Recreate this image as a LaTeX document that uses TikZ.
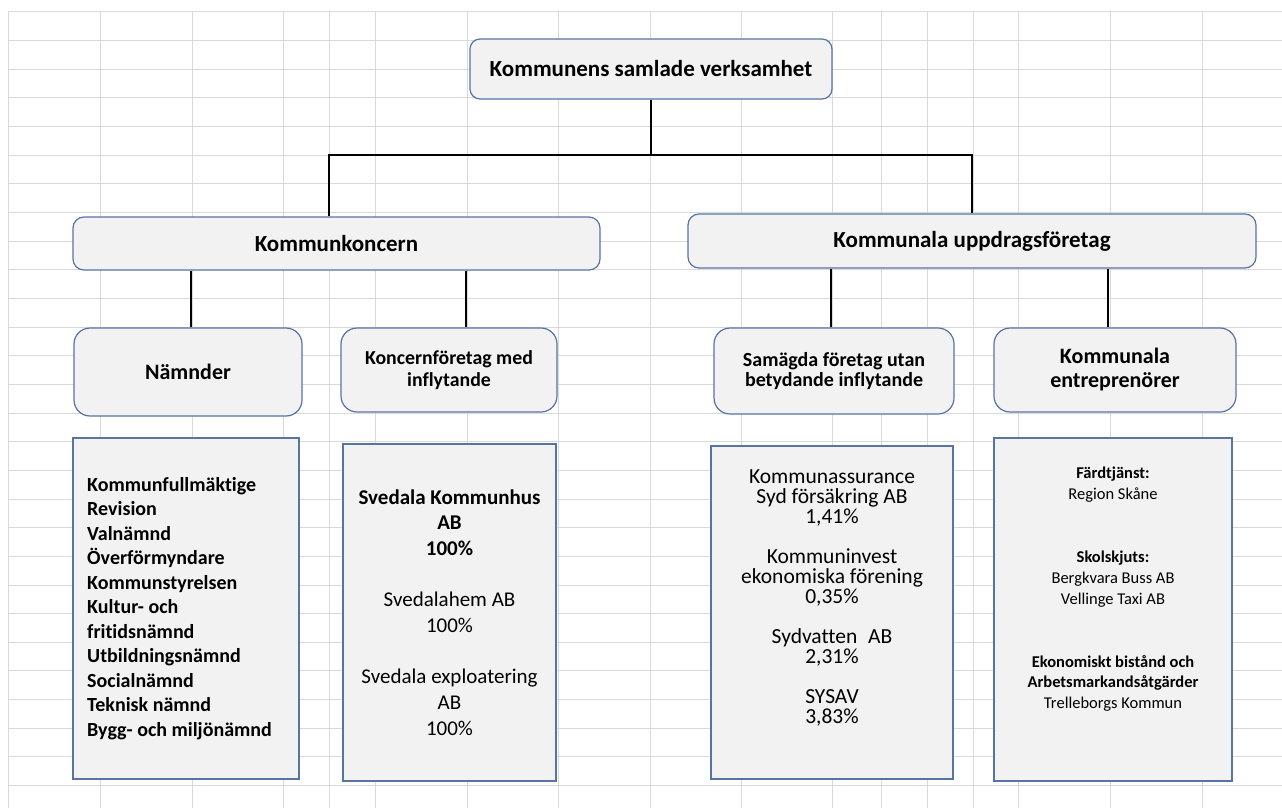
\documentclass[tikz,border=0pt]{standalone}
\usepackage{fontspec}
\setmainfont[Ligatures=NoCommon]{Carlito}
\definecolor{boxfill}{RGB}{242,242,242}
\definecolor{boxline}{RGB}{88,116,165}
\definecolor{gridc}{RGB}{217,217,217}
\tikzset{
  gridline/.style={draw=gridc, line width=1pt},
  conn/.style={draw=black, line width=2.3pt},
  headbox/.style={draw=boxline, fill=boxfill, line width=1.2pt, rounded corners=11pt,
    inner sep=0pt, align=center, font=\bfseries\fontsize{23}{27}\selectfont},
  subbox/.style={draw=boxline, fill=boxfill, line width=1.2pt, rounded corners=16pt,
    inner sep=0pt, align=center},
  listbox/.style={draw=boxline, fill=boxfill, line width=1.2pt, inner sep=0pt},
  listtext/.style={inner sep=0pt, align=center}
}
\begin{document}
\begin{tikzpicture}[x=1pt,y=-1pt]
\useasboundingbox (0,0) rectangle (1282,808);
\fill[white] (0,0) rectangle (1282,808);
% spreadsheet grid
\foreach \k in {0,...,27} {
  \draw[gridline] (8,{12+\k*28.65}) -- (1282,{12+\k*28.65});
}
\foreach \xx in {8,100,192,283,329,375,467,558,650,741,832,881,927,973,1018,1110,1202} {
  \draw[gridline] (\xx,12) -- (\xx,808);
}
\coordinate (bus) at (0,155);

% top level boxes
\node[headbox, minimum width=362pt, minimum height=60pt, rounded corners=10pt] (T) at (651,69) {Kommunens samlade verksamhet};
\node[headbox, minimum width=527pt, minimum height=53pt] (KK) at (336.5,243.5) {Kommunkoncern};
\node[headbox, minimum width=568pt, minimum height=54pt] (KU) at (972,241) {Kommunala uppdragsföretag};

% second level boxes
\node[subbox, minimum width=228pt, minimum height=88pt, font=\bfseries\fontsize{22}{26}\selectfont] (NM) at (188,372) {Nämnder};
\node[subbox, minimum width=216pt, minimum height=84pt, font=\bfseries\fontsize{19.8}{22.5}\selectfont] (KF) at (449,370) {Koncernföretag med\\inflytande};
\node[subbox, minimum width=240pt, minimum height=86pt, font=\bfseries\fontsize{20}{19.5}\selectfont] (SA) at (834,371) {Samägda företag utan\\betydande inflytande};
\node[subbox, minimum width=242pt, minimum height=84pt, font=\bfseries\fontsize{22}{24}\selectfont] (KE) at (1115,370) {Kommunala\\entreprenörer};

% connectors
\draw[conn] (T.south) -- (T.south |- bus) -| ([xshift=-7.5pt]KK.north);
\draw[conn] (T.south |- bus) -| (KU.north);
\draw[conn] ([xshift=3pt]NM.north) -- ([xshift=3pt]NM.north |- KK.south);
\draw[conn] ([xshift=17pt]KF.north) -- ([xshift=17pt]KF.north |- KK.south);
\draw[conn] ([xshift=-3pt]SA.north) -- ([xshift=-3pt]SA.north |- KU.south);
\draw[conn] ([xshift=-7pt]KE.north) -- ([xshift=-7pt]KE.north |- KU.south);

% detail boxes
\node[listbox, minimum width=226pt, minimum height=341pt] (NL) at (186,608.5) {};
\node[listbox, minimum width=213pt, minimum height=337pt] (SV) at (449.5,612.5) {};
\node[listbox, minimum width=242pt, minimum height=333pt] (SL) at (832,612.5) {};
\node[listbox, minimum width=238pt, minimum height=343pt] (EL) at (1113,609.5) {};

\node[listtext, align=left, anchor=west, font=\bfseries\fontsize{20}{24.5}\selectfont] (NLt) at (87,608.5) {Kommunfullmäktige\\Revision\\Valnämnd\\Överförmyndare\\Kommunstyrelsen\\Kultur- och\\fritidsnämnd\\Utbildningsnämnd\\Socialnämnd\\Teknisk nämnd\\Bygg- och miljönämnd};

\node[listtext, font=\fontsize{21}{25.67}\selectfont] (SVt) at (449.5,612.5) {\textbf{Svedala Kommunhus}\\\textbf{AB}\\\textbf{100\%}\\[25.67pt]Svedalahem AB\\100\%\\[25.67pt]Svedala exploatering\\AB\\100\%};

\node[listtext, font=\fontsize{21.5}{20}\selectfont] (SLt) at (832,598) {Kommunassurance\\Syd försäkring AB\\1,41\%\\[20pt]Kommuninvest\\ekonomiska förening\\0,35\%\\[20pt]Sydvatten\enspace AB\\2,31\%\\[20pt]SYSAV\\3,83\%};

\node[listtext, font=\fontsize{16.5}{20.9}\selectfont] (ELt) at (1113,589.5) {\textbf{Färdtjänst:}\\Region Skåne\\[41.8pt]\textbf{Skolskjuts:}\\Bergkvara Buss AB\\Vellinge Taxi AB\\[41.8pt]\textbf{Ekonomiskt bistånd och}\\\textbf{Arbetsmarkandsåtgärder}\\Trelleborgs Kommun};
\end{tikzpicture}
\end{document}
